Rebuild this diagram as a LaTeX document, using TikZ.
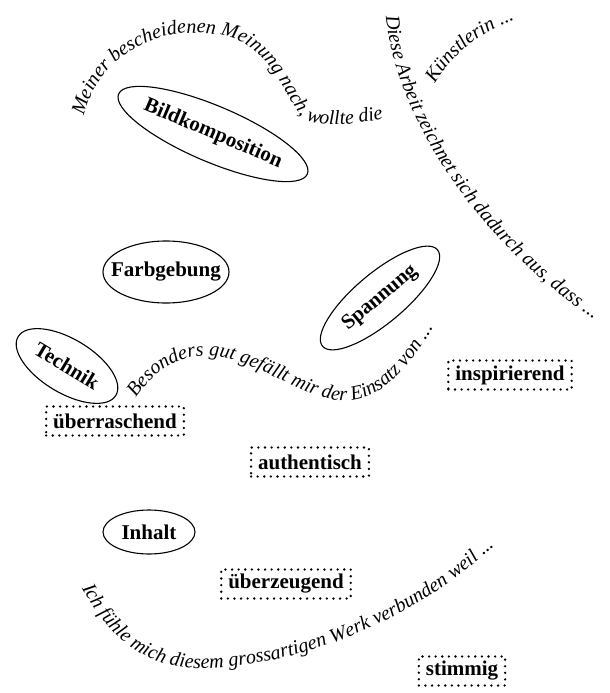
\documentclass[tikz,border=0pt]{standalone}
\usepackage{fontspec}
\setmainfont{Liberation Serif}
\usetikzlibrary{decorations.text,shapes.geometric}

\newcommand{\nowidth}[1]{\makebox[0pt]{#1}}
\newcommand{\phrasefont}{\fontsize{20}{24}\selectfont\itshape}

\begin{document}
\begin{tikzpicture}[x=1pt,y=-1pt,
        bubble/.style={ellipse,draw,line width=1.1pt,inner sep=0pt,font=\fontsize{21}{25}\selectfont\bfseries},
        dotbox/.style={draw,line width=2.6pt,dash pattern=on 0pt off 6.6pt,line cap=round,
            inner xsep=7pt,inner ysep=0pt,minimum height=29pt,font=\fontsize{21}{25}\selectfont\bfseries},
        phrase/.style={decorate,decoration={text along path,text align=left,text={|\phrasefont|#1}}}]
        % the page
        \useasboundingbox (0,0) rectangle (610,693);

        % the ellipses with the keywords
        \node[bubble,minimum width=205pt,minimum height=56pt,rotate=-23] (bild) at (213,134) {\nowidth{Bildkomposition}};
        \node[bubble,minimum width=126pt,minimum height=62pt] (farbe) at (166,272) {\nowidth{Farbgebung}};
        \node[bubble,minimum width=150pt,minimum height=50pt,rotate=40] (spannung) at (380,298) {\nowidth{Spannung}};
        \node[bubble,minimum width=114pt,minimum height=54pt,rotate=-31] (technik) at (67,366) {\nowidth{Technik}};
        \node[bubble,minimum width=92pt,minimum height=44pt] (inhalt) at (149,532) {\nowidth{Inhalt}};

        % the dotted boxes with the adjectives
        \foreach \name/\x/\y/\word in {
            insp/510/375/inspirierend,
            ueberr/115/421/überraschend,
            auth/310/462/authentisch,
            ueberz/286/584/überzeugend,
            stimm/462/671/stimmig}
                \node[dotbox] (\name) at (\x,\y) {\word};

        % the sentence openings along curves
        \path[phrase={Meiner bescheidenen Meinung nach, wollte die}]
            (84,116) .. controls (98,55) and (160,22) .. (225,36)
            .. controls (265,45) and (280,85) .. (300,115)
            .. controls (312,128) and (345,127) .. (395,116);
        \path[phrase={Künstlerin ...}]
            (435,84) .. controls (455,50) and (488,25) .. (535,14);
        \path[phrase={Diese Arbeit zeichnet sich dadurch aus, dass ...}]
            (386,16) .. controls (395,120) and (485,255) .. (612,330);
        \path[phrase={Besonders gut gefällt mir der Einsatz von ...}]
            (136,398) .. controls (160,362) and (190,352) .. (220,357)
            .. controls (268,366) and (314,406) .. (354,400)
            .. controls (382,396) and (408,370) .. (434,326);
        \path[phrase={Ich fühle mich diesem grossartigen Werk verbunden weil ...}]
            (82,588) .. controls (110,640) and (150,672) .. (210,668)
            .. controls (330,662) and (440,600) .. (500,540);
\end{tikzpicture}
\end{document}
